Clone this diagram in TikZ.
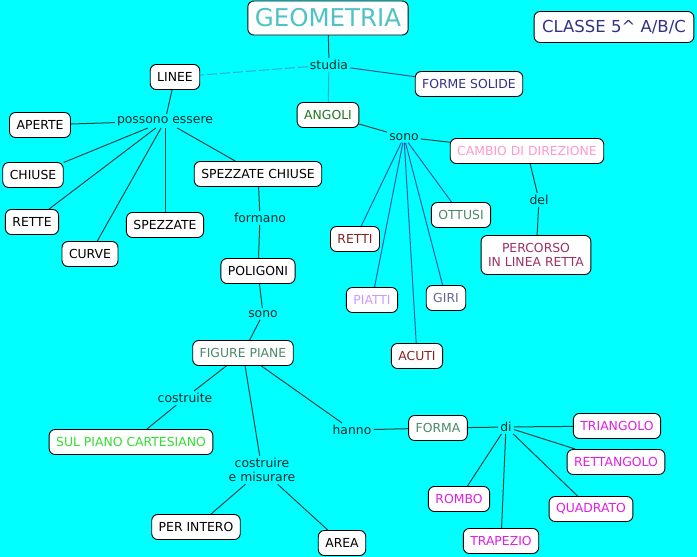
\documentclass[tikz,border=0pt]{standalone}
\usepackage{fontspec}
\setmainfont{DejaVu Sans}
\usetikzlibrary{arrows}

\definecolor{bgcyan}{HTML}{00FFFF}
\definecolor{titleclr}{HTML}{4FC3C3}
\definecolor{navyclr}{HTML}{333385}
\definecolor{greenclr}{HTML}{227722}
\definecolor{sageclr}{HTML}{4A8A6A}
\definecolor{pinkclr}{HTML}{FF99CC}
\definecolor{plumclr}{HTML}{993366}
\definecolor{maroonclr}{HTML}{882222}
\definecolor{lilacclr}{HTML}{CC99FF}
\definecolor{greyblue}{HTML}{666699}
\definecolor{limeclr}{HTML}{33DD33}
\definecolor{magentaclr}{HTML}{E020E0}
\definecolor{linktext}{HTML}{0A2A2A}
\definecolor{lineclr}{HTML}{1A4545}
\definecolor{lightline}{HTML}{33AACC}
\definecolor{blueline}{HTML}{225588}
\definecolor{angleline}{HTML}{2258B0}

\begin{document}
\begin{tikzpicture}[x=1pt,y=-1pt,
  concept/.style={shape=rectangle,rounded corners=6pt,draw=black,fill=white,line width=0.9pt,
    minimum height=25pt,inner xsep=7pt,font=\fontsize{12.4}{14.5}\selectfont},
  link/.style={inner sep=2pt,text=linktext,font=\fontsize{12.4}{14.5}\selectfont},
  every edge/.style={draw=lineclr,line width=1pt}]
\fill[bgcyan] (0,0) rectangle (697,557);
\useasboundingbox (0,0) rectangle (697,557);
% concepts
\node[concept,text=titleclr,font=\fontsize{24.5}{28}\selectfont,minimum height=34pt,inner xsep=7pt] (geometria) at (328,18) {GEOMETRIA};
\node[concept,text=navyclr,font=\fontsize{16.5}{19}\selectfont,minimum height=31pt,inner xsep=8pt] (classe) at (614,27) {CLASSE 5\^{} A/B/C};
\node[concept] (linee) at (175,77) {LINEE};
\node[concept,text=navyclr] (solide) at (469,84) {FORME SOLIDE};
\node[concept,text=greenclr] (angoli) at (328,115) {ANGOLI};
\node[concept] (aperte) at (40,125) {APERTE};
\node[concept] (chiuse) at (33,175) {CHIUSE};
\node[concept] (rette) at (32,222) {RETTE};
\node[concept] (curve) at (90,254) {CURVE};
\node[concept] (spezzate) at (165,225) {SPEZZATE};
\node[concept] (spezchiuse) at (258,174) {SPEZZATE CHIUSE};
\node[concept] (poligoni) at (258,271) {POLIGONI};
\node[concept,text=sageclr] (piane) at (243,353) {FIGURE PIANE};
\node[concept,text=limeclr] (cartesiano) at (131,442) {SUL PIANO CARTESIANO};
\node[concept] (intero) at (196,527) {PER INTERO};
\node[concept] (area) at (342,543) {AREA};
\node[concept,text=sageclr] (forma) at (438,428) {FORMA};
\node[concept,text=magentaclr] (triangolo) at (617,426) {TRIANGOLO};
\node[concept,text=magentaclr] (rettangolo) at (616,462) {RETTANGOLO};
\node[concept,text=magentaclr] (quadrato) at (591,509) {QUADRATO};
\node[concept,text=magentaclr] (trapezio) at (501,541) {TRAPEZIO};
\node[concept,text=magentaclr] (rombo) at (459,499) {ROMBO};
\node[concept,text=pinkclr] (cambio) at (527,151) {CAMBIO DI DIREZIONE};
\node[concept,text=plumclr,align=center,minimum height=39pt] (percorso) at (536,255) {PERCORSO\\IN LINEA RETTA};
\node[concept,text=sageclr] (ottusi) at (461,215) {OTTUSI};
\node[concept,text=maroonclr] (retti) at (355,239) {RETTI};
\node[concept,text=lilacclr] (piatti) at (372,300) {PIATTI};
\node[concept,text=greyblue] (giri) at (446,298) {GIRI};
\node[concept,text=maroonclr] (acuti) at (417,356) {ACUTI};
% linking phrases
\node[link] (studia) at (329,65) {studia};
\node[link] (possono) at (165,121) {possono essere};
\node[link] (formano) at (260,218) {formano};
\node[link] (sonofig) at (263,314) {sono};
\node[link] (costruite) at (185,398) {costruite};
\node[link,align=center] (misurare) at (262,470) {costruire\\e misurare};
\node[link] (hanno) at (352,430) {hanno};
\node[link] (di) at (506,427) {di};
\node[link] (sonoang) at (404,137) {sono};
\node[link] (del) at (539,200) {del};
% connectors
\path [] (geometria) edge (studia);
\path [] (studia) edge[draw=lightline,dash pattern=on 10pt off 3pt] (linee);
\path [] (studia) edge[draw=lightline] (angoli);
\path [] (studia) edge[draw=blueline] (solide);
\path [] (linee) edge (possono);
\path [] (possono) edge (aperte);
\path [] (possono) edge (chiuse);
\path [] (possono) edge (rette);
\path [] (possono) edge (curve);
\path [] (possono) edge (spezzate);
\path [] (possono) edge (spezchiuse);
\path [] (spezchiuse) edge (formano);
\path [] (formano) edge (poligoni);
\path [] (poligoni) edge (sonofig);
\path [] (sonofig) edge (piane);
\path [] (piane) edge (costruite);
\path [] (costruite) edge (cartesiano);
\path [] (piane) edge (misurare);
\path [] (misurare) edge (intero);
\path [] (misurare) edge (area);
\path [] (piane) edge (hanno);
\path [] (hanno) edge (forma);
\path [] (forma) edge (di);
\path [] (di) edge (triangolo);
\path [] (di) edge (rettangolo);
\path [] (di) edge (quadrato);
\path [] (di) edge (trapezio);
\path [] (di) edge (rombo);
\path [] (angoli) edge (sonoang);
\path [] (sonoang) edge (cambio);
\path [] (sonoang) edge[draw=angleline] (ottusi);
\path [] (sonoang) edge[draw=angleline] (retti);
\path [] (sonoang) edge[draw=angleline] (piatti);
\path [] (sonoang) edge[draw=angleline] (giri);
\path [] (sonoang) edge[draw=angleline] (acuti);
\path [] (cambio) edge (del);
\path [] (del) edge (percorso);
\end{tikzpicture}
\end{document}
